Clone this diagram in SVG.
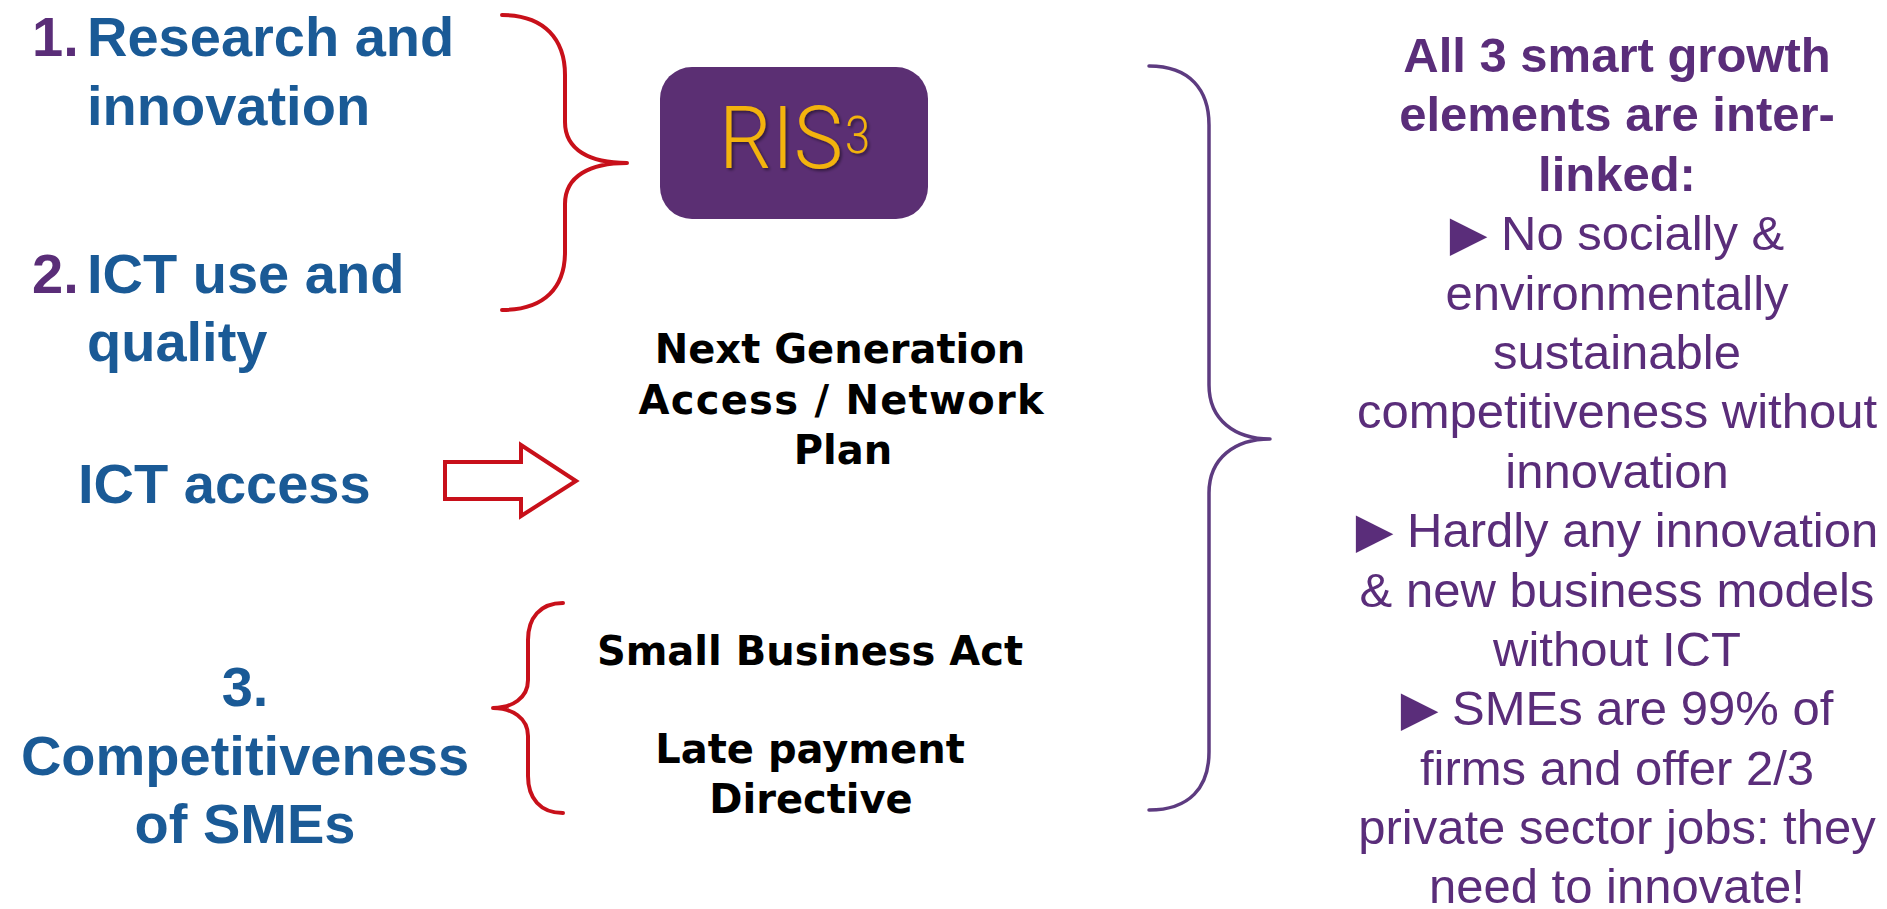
<svg xmlns="http://www.w3.org/2000/svg" width="1887" height="909" viewBox="0 0 1887 909">
  <style>
    .lead { font-family: "Liberation Sans", Arial, sans-serif; font-weight: bold; font-size: 56px; fill: #1a5a96; }
    .num { fill: #5a2d78; }
    .plan { font-family: "DejaVu Sans", Verdana, sans-serif; font-weight: bold; font-size: 40px; fill: #000; text-anchor: middle; }
    .note { font-family: "Liberation Sans", Arial, "DejaVu Sans", sans-serif; font-size: 49px; fill: #5a2d7a; text-anchor: middle; }
    .note .head { font-weight: bold; }
    .brace-red { fill: none; stroke: #c8101a; stroke-width: 4; stroke-linecap: round; stroke-linejoin: round; }
    .brace-purple { fill: none; stroke: #5d3b80; stroke-width: 3.5; stroke-linecap: round; stroke-linejoin: round; }
    .badge-text { font-family: Roboto, "Liberation Sans", Arial, sans-serif; font-weight: 300; fill: #f3b30b; }
  </style>
  <defs>
    <filter id="softShadow" x="-20%" y="-20%" width="140%" height="140%">
      <feDropShadow dx="2" dy="2" stdDeviation="1.5" flood-color="#000" flood-opacity="0.45"/>
    </filter>
  </defs>

  <rect width="1887" height="909" fill="#fff"/>

  <!-- connectors: braces and the outline arrow -->
  <g id="connectors">
    <path class="brace-red" d="M502,15 C545,15 565,40 565,75 L565,122 C565,150 590,163 627,163 C590,163 565,176 565,204 L565,252 C565,287 545,310 502,310"/>
    <path class="brace-red" d="M563,603 C540,603 528,618 528,640 L528,680 C528,698 512,708 493,708 C512,708 528,718 528,736 L528,776 C528,798 540,813 563,813"/>
    <polygon fill="#fff" stroke="#c8101a" stroke-width="4" stroke-linejoin="miter" points="445,462 521,462 521,445 576,481 521,516 521,499 445,499"/>
    <path class="brace-purple" d="M1149,66 C1190,66 1209,90 1209,125 L1209,385 C1209,420 1235,439 1270,439 C1235,439 1209,458 1209,493 L1209,752 C1209,787 1190,810 1149,810"/>
  </g>

  <!-- left column -->
  <g id="research">
    <text class="lead num" x="32" y="56">1.</text>
    <text class="lead" x="87" y="56">Research and</text>
    <text class="lead" x="87" y="125">innovation</text>
  </g>
  <g id="ict-use">
    <text class="lead num" x="32" y="293">2.</text>
    <text class="lead" x="87" y="293">ICT use and</text>
    <text class="lead" x="87" y="361">quality</text>
  </g>
  <g id="ict-access">
    <text class="lead" x="78" y="503">ICT access</text>
  </g>
  <g id="sme">
    <text class="lead" x="245" y="706" text-anchor="middle">3.</text>
    <text class="lead" x="245" y="775" text-anchor="middle">Competitiveness</text>
    <text class="lead" x="245" y="843" text-anchor="middle">of SMEs</text>
  </g>

  <!-- middle column -->
  <g id="ris3">
    <rect x="660" y="67" width="268" height="152" rx="32" ry="32" fill="#5b2f73"/>
    <text class="badge-text" filter="url(#softShadow)" y="168"><tspan x="719" font-size="88" textLength="124" lengthAdjust="spacingAndGlyphs">RIS</tspan><tspan x="845" y="153" font-size="52" textLength="25" lengthAdjust="spacingAndGlyphs">3</tspan></text>
  </g>
  <g id="nga-plan">
    <text class="plan" x="840" y="363">Next Generation</text>
    <text class="plan" x="841" y="414" textLength="405">Access / Network</text>
    <text class="plan" x="843" y="464">Plan</text>
  </g>
  <g id="sba">
    <text class="plan" x="810" y="665">Small Business Act</text>
  </g>
  <g id="late-payment">
    <text class="plan" x="810" y="763">Late payment</text>
    <text class="plan" x="811" y="813">Directive</text>
  </g>

  <!-- right column -->
  <g id="summary" class="note">
    <text class="head" x="1617" y="72">All 3 smart growth</text>
    <text class="head" x="1617" y="131">elements are inter-</text>
    <text class="head" x="1617" y="191">linked:</text>
    <text x="1617" y="250">▶ No socially &amp;</text>
    <text x="1617" y="310">environmentally</text>
    <text x="1617" y="369">sustainable</text>
    <text x="1617" y="428">competitiveness without</text>
    <text x="1617" y="488">innovation</text>
    <text x="1617" y="547">▶ Hardly any innovation</text>
    <text x="1617" y="607">&amp; new business models</text>
    <text x="1617" y="666">without ICT</text>
    <text x="1617" y="725">▶ SMEs are 99% of</text>
    <text x="1617" y="785">firms and offer 2/3</text>
    <text x="1617" y="844">private sector jobs: they</text>
    <text x="1617" y="903">need to innovate!</text>
  </g>
</svg>
